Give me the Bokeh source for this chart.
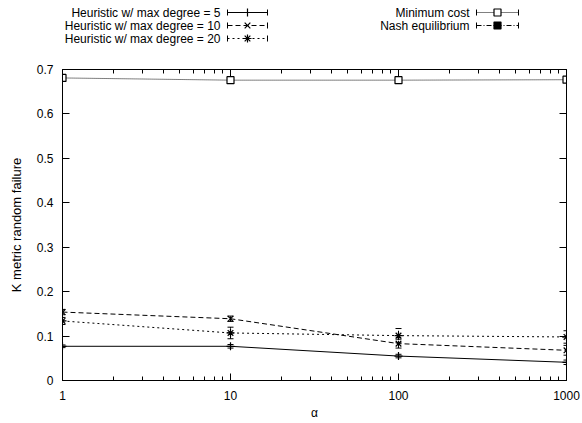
from bokeh.plotting import figure
from bokeh.models import Range1d, FixedTicker, LogAxis, LinearAxis, Whisker, ColumnDataSource, TeeHead
from bokeh.layouts import column
from bokeh.embed import file_html
from bokeh.resources import INLINE
from bokeh.core.properties import value

# ---------------- data ----------------
alpha = [1, 10, 100, 1000]
deg5 = [0.077, 0.077, 0.055, 0.041]
deg5_err = [0.003, 0.004, 0.004, 0.005]
deg10 = [0.154, 0.139, 0.083, 0.068]
deg10_err = [0.006, 0.006, 0.010, 0.011]
deg20 = [0.134, 0.107, 0.101, 0.098]
deg20_err = [0.008, 0.013, 0.016, 0.014]
mincost = [0.681, 0.676, 0.676, 0.677]
mincost_err = [0.004, 0.004, 0.004, 0.004]
nash = []          # Nash equilibrium: no point inside the plotted range
nash_alpha = []

series_labels = ["Heuristic w/ max degree = 5", "Heuristic w/ max degree = 10",
                 "Heuristic w/ max degree = 20", "Minimum cost", "Nash equilibrium"]
y_ticks = [0, 0.1, 0.2, 0.3, 0.4, 0.5, 0.6, 0.7]
y_tick_labels = ["0", "0.1", "0.2", "0.3", "0.4", "0.5", "0.6", "0.7"]
x_ticks = [1, 10, 100, 1000]
x_tick_labels = ["1", "10", "100", "1000"]

FONT = value("Liberation Sans")
FONT_NAME = "Liberation Sans"

styles = [
    dict(dash="solid", marker="cross", fill=None),
    dict(dash="5 3", marker="x", fill=None),
    dict(dash="2 3", marker="asterisk", fill=None),
    dict(dash="1 1", marker="square", fill="white"),
    dict(dash="5 2 1 2", marker="square", fill="black"),
]

W = 582
BL, BR = 62, 16          # left / right borders (frames of both figures line up)

# ---------------- legend figure ----------------
LH = 56
leg = figure(width=W, height=LH, x_range=Range1d(BL, W - BR), y_range=Range1d(LH, 0),
             output_backend="svg", toolbar_location=None,
             min_border_left=BL, min_border_right=BR, min_border_top=0, min_border_bottom=0)
leg.axis.visible = False
leg.grid.visible = False
leg.outline_line_color = None

col_text_x = [220, 220, 220, 469, 469]
col_s0 = [227, 227, 227, 476, 476]
col_s1 = [267, 267, 267, 518, 518]
row_y = [12, 25, 38, 12, 25]

leg.text(x=col_text_x, y=row_y, text=series_labels, text_align="right",
         text_baseline="middle", text_font=FONT, text_font_size="12px", text_color="black")
for i, st in enumerate(styles):
    leg.segment(x0=[col_s0[i]], y0=[row_y[i]], x1=[col_s1[i]], y1=[row_y[i]],
                line_color="black", line_width=1, line_dash=st["dash"])
    leg.segment(x0=[col_s0[i], col_s1[i]], y0=[row_y[i] - 3, row_y[i] - 3],
                x1=[col_s0[i], col_s1[i]], y1=[row_y[i] + 3, row_y[i] + 3],
                line_color="black", line_width=1)
    leg.scatter(x=[(col_s0[i] + col_s1[i]) / 2], y=[row_y[i]], marker=st["marker"],
                size=7 if st["marker"] == "square" else 8,
                line_color="black", line_width=1.2,
                fill_color=st["fill"] if st["fill"] else None)

# ---------------- main figure ----------------
p = figure(width=W, height=367, x_axis_type="log",
           x_range=Range1d(1, 1000), y_range=Range1d(0, 0.7),
           output_backend="svg", toolbar_location=None,
           min_border_left=BL, min_border_right=BR, min_border_top=13, min_border_bottom=43)
p.grid.visible = False
p.outline_line_color = "black"
p.outline_line_width = 1

minor = [m * d for d in (1, 10, 100) for m in range(2, 10)]

def style_axis(ax, labels=True):
    ax.axis_line_color = "black"
    ax.major_tick_line_color = "black"
    ax.minor_tick_line_color = "black"
    ax.major_tick_in = 7
    ax.major_tick_out = 0
    ax.minor_tick_in = 4
    ax.minor_tick_out = 0
    ax.major_label_text_font = FONT_NAME
    ax.major_label_text_font_size = "12px" if labels else "1px"
    ax.major_label_text_color = "black"
    if not labels:
        ax.major_label_text_alpha = 0
        ax.major_label_standoff = 0
    ax.axis_label_text_font = FONT_NAME
    ax.axis_label_text_font_size = "12px"
    ax.axis_label_text_font_style = "normal"
    ax.axis_label_text_color = "black"

xa = p.xaxis[0]
xa.ticker = FixedTicker(ticks=x_ticks, minor_ticks=minor)
xa.major_label_overrides = {t: l for t, l in zip(x_ticks, x_tick_labels)}
xa.axis_label = "α"
style_axis(xa)
xa.major_label_standoff = 10
xa.axis_label_standoff = 3

ya = p.yaxis[0]
ya.ticker = FixedTicker(ticks=y_ticks, minor_ticks=[])
ya.major_label_overrides = {t: l for t, l in zip(y_ticks, y_tick_labels)}
ya.axis_label = "K metric random failure"
style_axis(ya)
ya.axis_label_text_font_size = "13px"
ya.minor_tick_in = 0
ya.major_label_standoff = 9
ya.axis_label_standoff = 10

top = LogAxis(ticker=FixedTicker(ticks=x_ticks, minor_ticks=minor))
style_axis(top, labels=False)
p.add_layout(top, "above")
right = LinearAxis(ticker=FixedTicker(ticks=y_ticks, minor_ticks=[]))
style_axis(right, labels=False)
right.minor_tick_in = 0
p.add_layout(right, "right")

all_series = [(deg5, deg5_err), (deg10, deg10_err), (deg20, deg20_err), (mincost, mincost_err)]
for (vals, errs), st in zip(all_series, styles[:4]):
    src = ColumnDataSource(dict(x=alpha, y=vals,
                                lo=[v - e for v, e in zip(vals, errs)],
                                hi=[v + e for v, e in zip(vals, errs)]))
    p.line("x", "y", source=src, line_color="black", line_width=1, line_dash=st["dash"])
    w = Whisker(source=src, base="x", lower="lo", upper="hi", line_color="black",
                line_width=1, line_dash=st["dash"],
                lower_head=TeeHead(size=6, line_color="black"),
                upper_head=TeeHead(size=6, line_color="black"))
    p.add_layout(w)
    p.scatter("x", "y", source=src, marker=st["marker"],
              size=7 if st["marker"] == "square" else 8, line_color="black",
              line_width=1.2, fill_color=st["fill"] if st["fill"] else None)

nsrc = ColumnDataSource(dict(x=nash_alpha, y=nash))
p.line("x", "y", source=nsrc, line_color="black", line_dash=styles[4]["dash"])
p.scatter("x", "y", source=nsrc, marker="square", size=7, fill_color="black", line_color="black")

layout = column(leg, p, spacing=0)
open("out.html", "w").write(file_html(layout, INLINE))
